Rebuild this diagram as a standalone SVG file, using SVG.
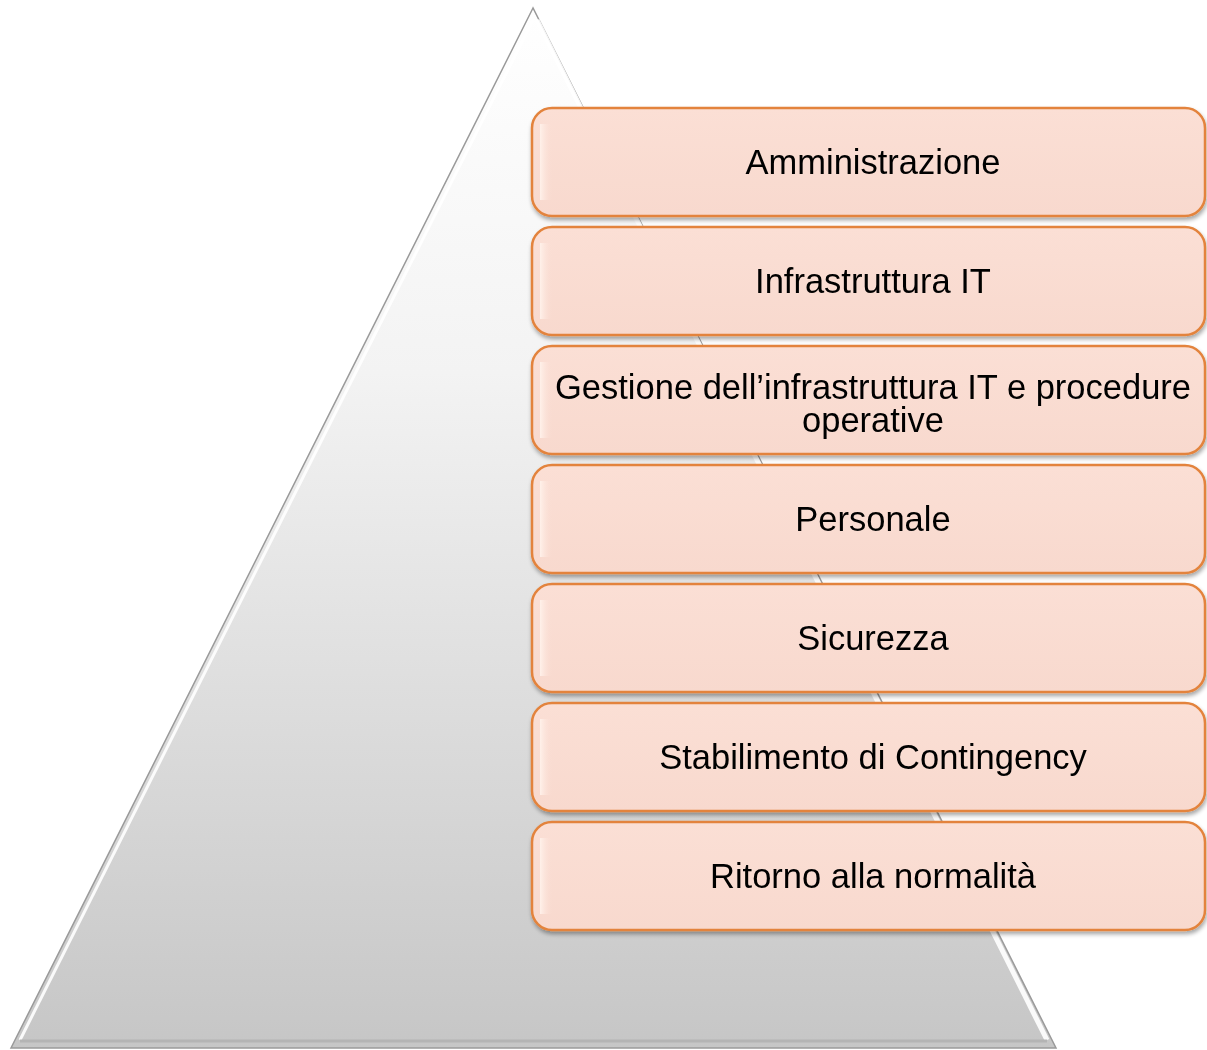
<svg xmlns="http://www.w3.org/2000/svg" width="1207" height="1050" viewBox="0 0 1207 1050">
<defs>
<linearGradient id="tri" x1="0" y1="0" x2="0" y2="1">
<stop offset="0" stop-color="#ffffff"/>
<stop offset="0.35" stop-color="#f3f3f3"/>
<stop offset="1" stop-color="#c6c6c6"/>
</linearGradient>
<linearGradient id="box" x1="0" y1="0" x2="0" y2="1">
<stop offset="0" stop-color="#fbdfd5"/>
<stop offset="1" stop-color="#f8d9ce"/>
</linearGradient>
<linearGradient id="hl" x1="0" y1="0" x2="1" y2="0">
<stop offset="0" stop-color="#fff1ea"/>
<stop offset="1" stop-color="#fbdfd5" stop-opacity="0"/>
</linearGradient>
<filter id="sh" x="-5%" y="-10%" width="110%" height="130%">
<feGaussianBlur in="SourceAlpha" stdDeviation="2"/>
<feOffset dx="1" dy="3" result="b"/>
<feComponentTransfer><feFuncA type="linear" slope="0.35"/></feComponentTransfer>
<feMerge><feMergeNode/><feMergeNode in="SourceGraphic"/></feMerge>
</filter>
</defs>
<style>
.b{fill:url(#box);stroke:#e3833c;stroke-width:2.5}
.t{font-family:"Liberation Sans",Arial,sans-serif;font-size:34.5px;fill:#000;text-anchor:middle}
</style>
<g id="pyramid">
<polygon points="533,8 11,1048 1056,1048" fill="url(#tri)" stroke="#9a9a9a" stroke-width="1.5"/>
<polyline points="20,1040 533,20" fill="none" stroke="#ffffff" stroke-width="3" opacity="0.9"/>
<polyline points="537,20 1047,1040" fill="none" stroke="#ffffff" stroke-width="5" opacity="0.9"/>
<line x1="20" y1="1041" x2="1047" y2="1041" stroke="#b4b4b4" stroke-width="3"/>
</g>
<g id="n1" filter="url(#sh)"><rect class="b" x="532" y="108" width="673" height="108" rx="20"/><rect x="540" y="124" width="12" height="76" fill="url(#hl)"/><text class="t" x="873" y="174">Amministrazione</text></g>
<g id="n2" filter="url(#sh)"><rect class="b" x="532" y="227" width="673" height="108" rx="20"/><rect x="540" y="243" width="12" height="76" fill="url(#hl)"/><text class="t" x="873" y="293">Infrastruttura IT</text></g>
<g id="n3" filter="url(#sh)"><rect class="b" x="532" y="346" width="673" height="108" rx="20"/><rect x="540" y="362" width="12" height="76" fill="url(#hl)"/><text class="t" x="873" y="399">Gestione dell’infrastruttura IT e procedure</text><text class="t" x="873" y="432">operative</text></g>
<g id="n4" filter="url(#sh)"><rect class="b" x="532" y="465" width="673" height="108" rx="20"/><rect x="540" y="481" width="12" height="76" fill="url(#hl)"/><text class="t" x="873" y="531">Personale</text></g>
<g id="n5" filter="url(#sh)"><rect class="b" x="532" y="584" width="673" height="108" rx="20"/><rect x="540" y="600" width="12" height="76" fill="url(#hl)"/><text class="t" x="873" y="650">Sicurezza</text></g>
<g id="n6" filter="url(#sh)"><rect class="b" x="532" y="703" width="673" height="108" rx="20"/><rect x="540" y="719" width="12" height="76" fill="url(#hl)"/><text class="t" x="873" y="769">Stabilimento di Contingency</text></g>
<g id="n7" filter="url(#sh)"><rect class="b" x="532" y="822" width="673" height="108" rx="20"/><rect x="540" y="838" width="12" height="76" fill="url(#hl)"/><text class="t" x="873" y="888">Ritorno alla normalità</text></g>
<g id="connectors"/>
</svg>
